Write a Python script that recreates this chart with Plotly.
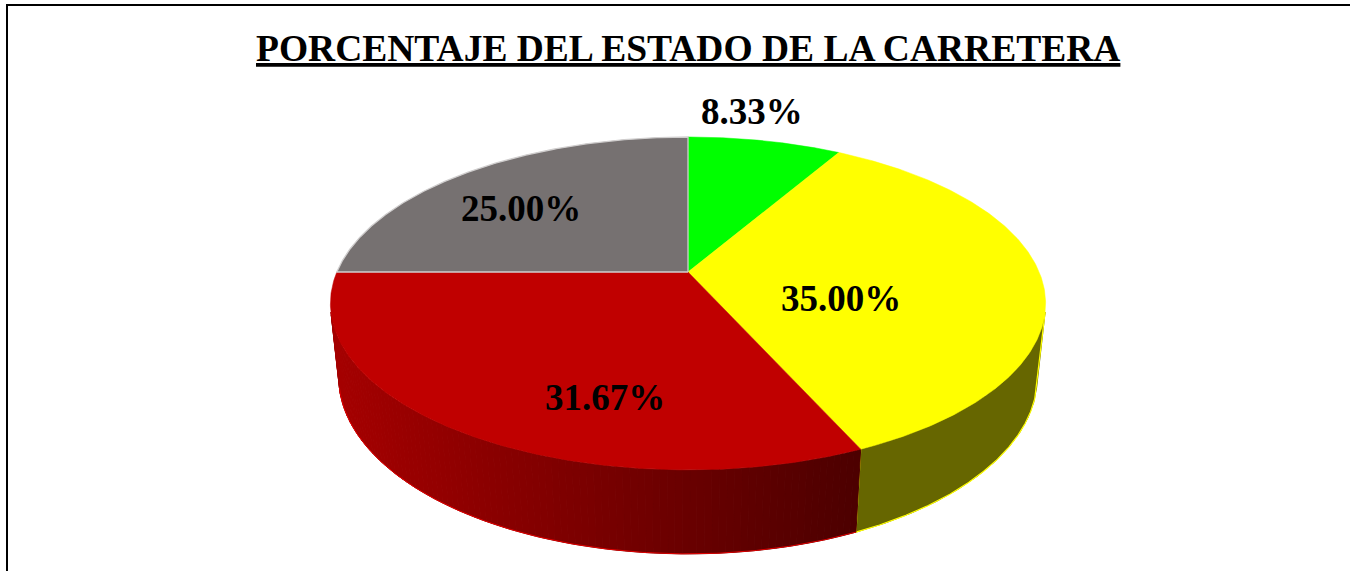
import numpy as np
import plotly.graph_objects as go

# ---------------- data ----------------
CATEGORIES = ["Bueno", "Regular", "Malo", "Muy malo"]
PERCENTS = [8.33, 35.00, 31.67, 25.00]
LABEL_TEXT = [f"{p:.2f}%" for p in PERCENTS]
TITLE = "PORCENTAJE DEL ESTADO DE LA CARRETERA"

# ---------------- styles ----------------
TOP_COLORS = ["#00FF00", "#FFFF00", "#C00000", "#767171"]
# side gradient (left colour, right colour)
SIDE_COLORS = [("#007A00", "#007A00"), ("#666600", "#666600"),
               ("#A50000", "#4C0000"), ("#3B3838", "#3B3838")]
SIDE_EDGE = ["#00FF00", "#FFFF00", "#E00000", "#767171"]
TOP_EDGE = [None, None, None, "#D0CECE"]
# label anchor on the pie top, as (angle from 12 o'clock clockwise in deg, radius fraction)
LABEL_POLAR = [(10.4, 1.25), (110.5, 0.45), (196.8, 0.71), (309.8, 0.67)]
FONT = "Liberation Serif"

# 3-D perspective geometry (pixels)
CX, CY = 688.0, 272.0
TILT = np.radians(27.2)
S, C = np.sin(TILT), np.cos(TILT)
DIST = 4.71
FOCAL = 1654.0
DEPTH = 0.239


def project(theta_deg, r, w):
    t = np.radians(theta_deg)
    u = r * np.sin(t)
    v = r * np.cos(t)
    yp = w * C + v * S
    zp = DIST + v * C - w * S
    return CX + FOCAL * u / zp, CY - FOCAL * yp / zp


def hex_to_rgb(h):
    h = h.lstrip("#")
    return [int(h[i:i + 2], 16) for i in (0, 2, 4)]


def mix(c1, c2, f):
    a, b = hex_to_rgb(c1), hex_to_rgb(c2)
    return "rgb({},{},{})".format(*[round(a[k] + (b[k] - a[k]) * f) for k in range(3)])


total = sum(PERCENTS)
bounds = np.concatenate([[0.0], np.cumsum(PERCENTS) / total * 360.0])
k = 1.0 / (DIST * C)
vis_lo = np.degrees(np.arccos(-k))
vis_hi = 360.0 - vis_lo

fig = go.Figure()

# ---- side walls ----
for i in range(len(PERCENTS)):
    a, b = bounds[i], bounds[i + 1]
    lo, hi = max(a, vis_lo), min(b, vis_hi)
    if lo >= hi:
        continue
    c0, c1 = SIDE_COLORS[i]
    n = max(1, int(np.ceil(hi - lo))) if c0 != c1 else 1
    edges = np.linspace(lo, hi, n + 1)
    ex, _ = project(edges, 1.0, 0.0)
    xmin, xmax = ex.min(), ex.max()
    for j in range(n):
        th = np.linspace(edges[j], edges[j + 1], 12)
        xt, yt = project(th, 1.0, 0.0)
        xb, yb = project(th[::-1], 1.0, -DEPTH)
        if n > 1:
            f = ((ex[j] + ex[j + 1]) / 2 - xmin) / (xmax - xmin)
            col = mix(c0, c1, f)
        else:
            col = c0
        fig.add_trace(go.Scatter(
            x=np.concatenate([xt, xb, xt[:1]]), y=np.concatenate([yt, yb, yt[:1]]),
            mode="lines", fill="toself", fillcolor=col,
            line=dict(color=col, width=1), hoverinfo="skip", showlegend=False))
    # outline of the wall
    th = np.linspace(lo, hi, 200)
    xt, yt = project(th, 1.0, -DEPTH)
    xl, yl = project(np.array([lo, lo]), 1.0, np.array([0.0, -DEPTH]))
    xr, yr = project(np.array([hi, hi]), 1.0, np.array([-DEPTH, 0.0]))
    if c0 == c1:
        fig.add_trace(go.Scatter(
            x=np.concatenate([xl, xt, xr]), y=np.concatenate([yl, yt, yr]),
            mode="lines", line=dict(color=SIDE_EDGE[i], width=1.2),
            hoverinfo="skip", showlegend=False))
    else:
        fig.add_trace(go.Scatter(
            x=xt, y=yt, mode="lines", line=dict(color=SIDE_EDGE[i], width=1),
            hoverinfo="skip", showlegend=False))

# ---- top faces ----
for i in range(len(PERCENTS)):
    a, b = bounds[i], bounds[i + 1]
    th = np.linspace(a, b, 240)
    xa, ya = project(th, 1.0, 0.0)
    x = np.concatenate([[CX], xa, [CX]])
    y = np.concatenate([[CY], ya, [CY]])
    edge = TOP_EDGE[i]
    fig.add_trace(go.Scatter(
        x=x, y=y, mode="lines", fill="toself", fillcolor=TOP_COLORS[i],
        line=dict(color=edge if edge else TOP_COLORS[i], width=1.3 if edge else 0.5),
        name=CATEGORIES[i], text=f"{CATEGORIES[i]}: {LABEL_TEXT[i]}",
        hoveron="fills", hoverinfo="text", showlegend=False))

# ---- data labels ----
for i in range(len(PERCENTS)):
    ang, r = LABEL_POLAR[i]
    lx, ly = project(ang, r, 0.0)
    fig.add_annotation(x=float(lx), y=float(ly), xref="x", yref="y",
                       text=f"<b>{LABEL_TEXT[i]}</b>", showarrow=False,
                       font=dict(family=FONT, size=37, color="black"),
                       xanchor="center", yanchor="middle")

# ---- title ----
fig.add_annotation(x=688, y=48, xref="x", yref="y",
                   text=f"<b><u>{TITLE}</u></b>", showarrow=False,
                   font=dict(family=FONT, size=37.5, color="black"),
                   xanchor="center", yanchor="middle")

# ---- chart frame ----
fig.add_shape(type="rect", xref="x", yref="y", x0=7, y0=5, x1=1500, y1=800,
              line=dict(color="black", width=2), fillcolor="rgba(0,0,0,0)", layer="above")

fig.update_layout(
    width=1350, height=571,
    margin=dict(l=0, r=0, t=0, b=0),
    paper_bgcolor="white", plot_bgcolor="white",
    xaxis=dict(range=[0, 1350], visible=False, fixedrange=True),
    yaxis=dict(range=[571, 0], visible=False, fixedrange=True),
    showlegend=False,
)

fig.write_html("out.html", config={"displayModeBar": False},
               post_script="document.body.style.margin='0';document.body.style.overflow='hidden';")
